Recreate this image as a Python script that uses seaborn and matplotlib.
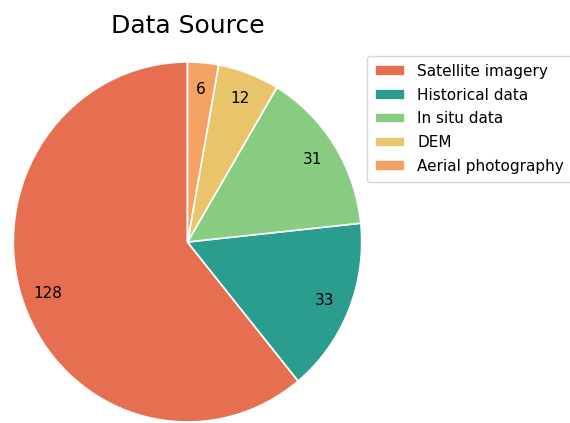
import matplotlib
matplotlib.use("Agg")
import matplotlib.pyplot as plt
import seaborn as sns

# Data sources and how many records came from each
categories = ["Satellite imagery", "Historical data", "In situ data", "DEM", "Aerial photography"]
counts = [128, 33, 31, 12, 6]
colors = ["#e76f51", "#2a9d8f", "#88cc81", "#e9c46a", "#f4a261"]

sns.set_theme(style="white")
plt.rcParams["font.family"] = ["DejaVu Sans"]
plt.rcParams["text.color"] = "black"

W, H = 570, 423
fig = plt.figure(figsize=(W / 100, H / 100), dpi=100)

# pie centre and radii in pixels
cx, cy = 187.5, 423 - 242.0
rx, ry = 174.2, 180.0
L = 1.06
ax = fig.add_axes([(cx - L * rx) / W, (cy - L * ry) / H, 2 * L * rx / W, 2 * L * ry / H])

total = sum(counts)
wedges, texts, autotexts = ax.pie(
    counts,
    colors=sns.color_palette(colors),
    startangle=90,
    autopct=lambda p: f"{round(p * total / 100)}",
    pctdistance=0.85,
    wedgeprops=dict(edgecolor="white", linewidth=1.2),
    textprops=dict(fontsize=11, color="black"),
)
ax.set_aspect("auto")
ax.set_xlim(-L, L)
ax.set_ylim(-L, L)
ax.set_title("Data Source", fontsize=18, pad=13.3, color="black")

leg = ax.legend(
    wedges, categories,
    loc="upper left",
    bbox_to_anchor=(367 / W, 1 - 56 / H),
    bbox_transform=fig.transFigure,
    borderaxespad=0,
    fontsize=11,
    labelspacing=0.58,
    borderpad=0.5,
)
for t in leg.get_texts():
    t.set_color("black")

fig.savefig("out.png", dpi=100)
